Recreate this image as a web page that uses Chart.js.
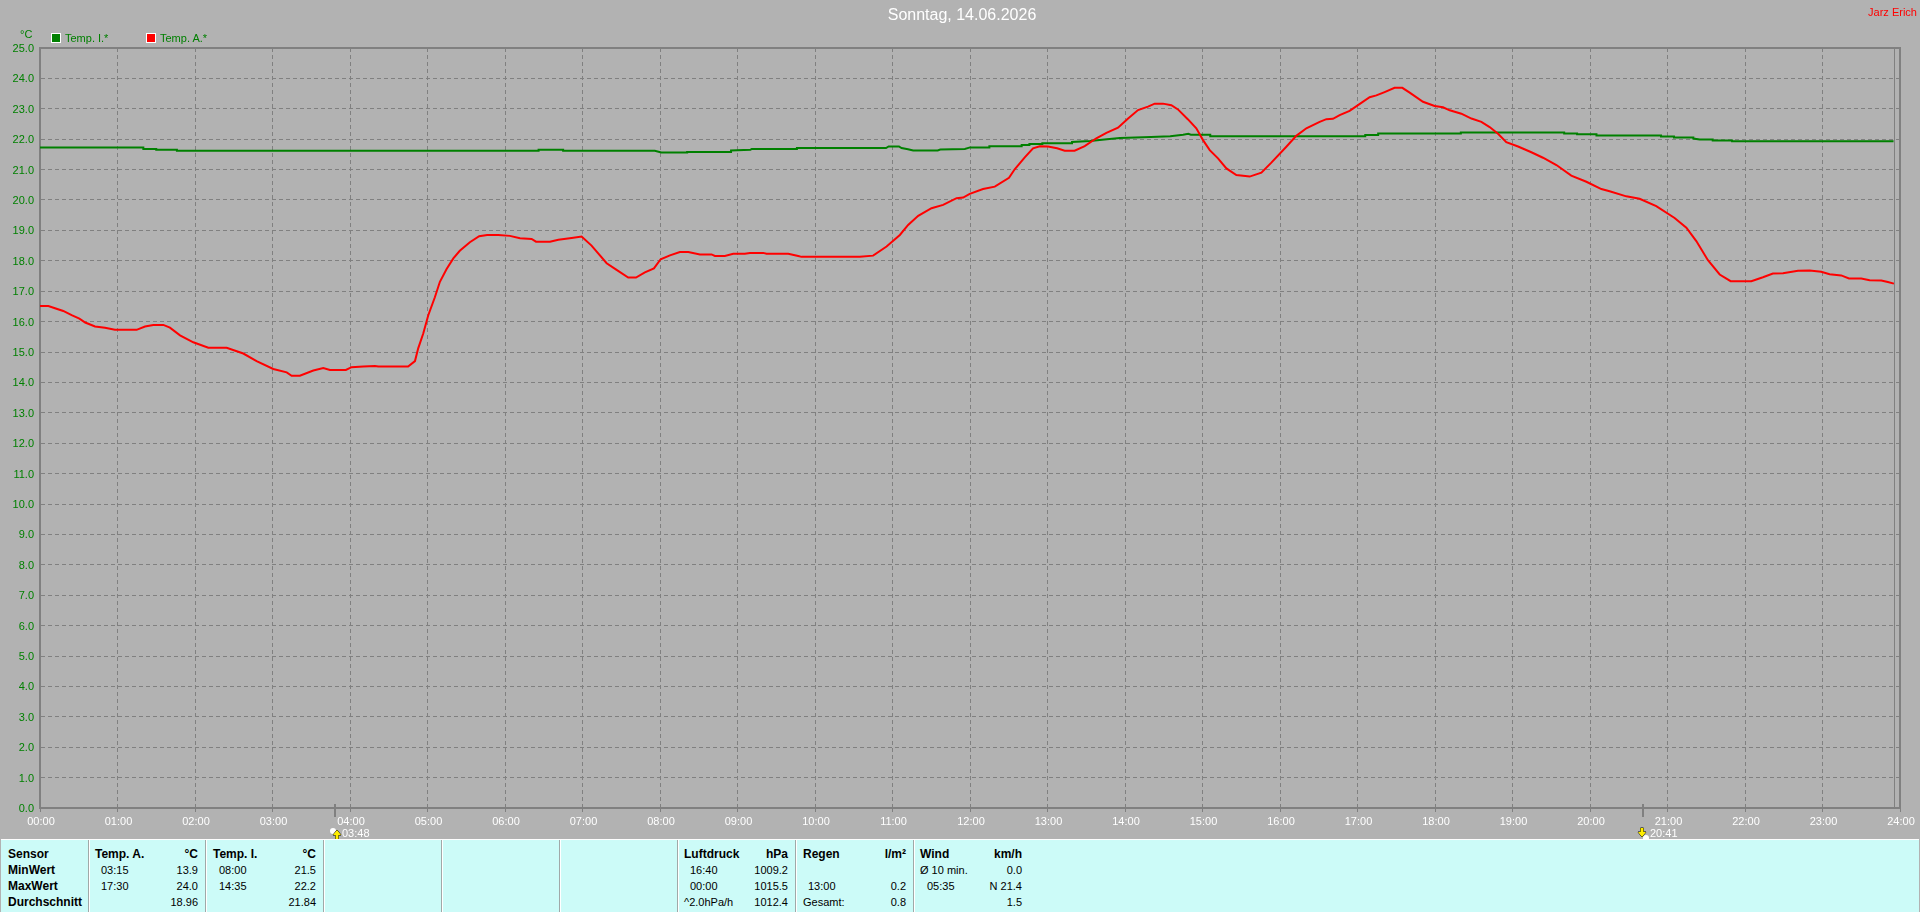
<!DOCTYPE html>
<html>
<head>
<meta charset="utf-8">
<title>Sonntag, 14.06.2026</title>
<script src="https://cdn.jsdelivr.net/npm/chart.js@4/dist/chart.umd.min.js"></script>
<style>
    html, body { margin: 0; padding: 0; background: #b2b2b2; overflow: hidden; }
    #page { position: relative; width: 1920px; height: 912px; font-family: "Liberation Sans", Arial, sans-serif; }
    #tempChart { position: absolute; left: 0; top: 0; }
    .lbl { position: absolute; font-size: 11px; line-height: 14px; white-space: nowrap; }
    .box { position: absolute; width: 8px; height: 8px; border: 1px solid #fff; top: 33px; }
    #panel { position: absolute; left: 1px; top: 839px; width: 1918px; height: 73px; background: #ccfbf8; border-top: 1px solid #fff; box-sizing: border-box; color: #000; }
    #panel .sep { position: absolute; top: 0; width: 2px; height: 73px; background: #a0a8a8; border-right: 1px solid #fff; box-sizing: border-box; }
    #panel .lbl { font-size: 11px; }
    #panel .b { font-weight: bold; font-size: 12px; }
</style>
</head>
<body>
<div id="page">
    <canvas id="tempChart" width="1920" height="839"></canvas>
    <div class="lbl" style="left:20px;top:27px;color:#008000">°C</div>
    <div class="lbl" style="right:3px;top:5px;color:#ff0000">Jarz Erich</div>
    <div id="legend"></div>
    <div id="panel"></div>
</div>
<script>
// Temp. I. (green), minutes after midnight and °C
const tempITimes = [0, 80, 80, 90, 90, 106, 106, 356, 386, 386, 405, 405, 476, 481, 501, 501, 535, 535, 550, 551, 586, 586, 655, 657, 665, 667, 672, 676, 695, 697, 716, 720, 735, 735, 760, 760, 766, 766, 776, 776, 799, 799, 813, 826, 836, 860, 875, 885, 889, 891, 906, 906, 1026, 1026, 1036, 1036, 1100, 1100, 1180, 1180, 1190, 1190, 1205, 1205, 1255, 1255, 1265, 1265, 1280, 1280, 1285, 1295, 1295, 1310, 1310, 1435];
const tempIValues = [21.73, 21.73, 21.68, 21.68, 21.65, 21.65, 21.62, 21.62, 21.62, 21.65, 21.65, 21.62, 21.62, 21.56, 21.56, 21.58, 21.58, 21.63, 21.65, 21.68, 21.68, 21.71, 21.71, 21.76, 21.76, 21.71, 21.67, 21.63, 21.63, 21.66, 21.68, 21.73, 21.73, 21.77, 21.77, 21.81, 21.81, 21.84, 21.84, 21.87, 21.87, 21.91, 21.94, 22.0, 22.04, 22.07, 22.1, 22.15, 22.18, 22.15, 22.15, 22.1, 22.1, 22.14, 22.14, 22.19, 22.19, 22.22, 22.22, 22.19, 22.19, 22.16, 22.16, 22.12, 22.12, 22.09, 22.09, 22.06, 22.06, 22.02, 21.99, 21.99, 21.96, 21.96, 21.93, 21.93];

// Temp. A. (red), minutes after midnight and °C
const tempATimes = [0, 6.5, 11.6, 18, 24.5, 30.5, 35, 42.6, 50.3, 58, 74.8, 81.3, 87.7, 95.5, 100.6, 108.4, 118.7, 130.3, 144.5, 157.4, 167.7, 180.6, 191, 194.8, 201.2, 211.6, 219.3, 224.5, 236.8, 241.2, 250.3, 259.3, 261.9, 285, 290.3, 292.8, 296.7, 300.6, 305.7, 309.6, 314.8, 320, 325, 332.8, 340, 346.2, 354.8, 363.8, 371.6, 380.6, 384, 394.8, 401.3, 411.6, 419.3, 427, 438.7, 446.4, 455.4, 461.4, 468.3, 475.3, 480.5, 487.7, 495.4, 501.9, 510.9, 519.9, 522.5, 530.2, 536.7, 545.7, 549.6, 559.9, 562.5, 579.3, 587, 589.6, 634.7, 645, 655.4, 665.7, 672.1, 679.9, 690.2, 699.2, 709.6, 714.7, 719.8, 730.1, 739.2, 750.2, 754.6, 762.4, 768.8, 774, 780.4, 787.4, 793.3, 801, 808.8, 817.8, 825.6, 834.6, 842.4, 850.1, 857.8, 863, 869.4, 875.9, 881, 888.8, 895.2, 900.4, 905.6, 912, 918.5, 926.2, 936.5, 945.6, 953.3, 964.9, 972.6, 980.4, 990.7, 995.9, 1001, 1006.2, 1013.9, 1020.4, 1029.4, 1034.6, 1041, 1048.7, 1054.7, 1060.4, 1070.7, 1079.7, 1086.2, 1091.4, 1100.4, 1108.2, 1115.9, 1122.3, 1128.8, 1135.2, 1144.3, 1154.6, 1163.6, 1174, 1185.5, 1197.2, 1208.8, 1215.2, 1228.1, 1238.4, 1251.3, 1265.5, 1274.6, 1282.3, 1291.3, 1300.4, 1308.9, 1324.9, 1333.9, 1341.6, 1349.4, 1361, 1370, 1379, 1385.5, 1394.5, 1400.5, 1410, 1416.5, 1425.5, 1430.6, 1435.3];
const tempAValues = [16.51, 16.51, 16.44, 16.35, 16.21, 16.10, 15.97, 15.84, 15.80, 15.73, 15.73, 15.84, 15.89, 15.89, 15.80, 15.55, 15.32, 15.14, 15.14, 14.95, 14.70, 14.44, 14.33, 14.22, 14.22, 14.39, 14.47, 14.41, 14.41, 14.50, 14.52, 14.54, 14.52, 14.52, 14.70, 15.12, 15.61, 16.21, 16.80, 17.31, 17.73, 18.08, 18.33, 18.61, 18.81, 18.85, 18.85, 18.82, 18.74, 18.72, 18.63, 18.63, 18.69, 18.75, 18.80, 18.50, 17.92, 17.70, 17.45, 17.45, 17.62, 17.75, 18.05, 18.18, 18.29, 18.29, 18.21, 18.21, 18.16, 18.16, 18.23, 18.23, 18.26, 18.26, 18.23, 18.23, 18.16, 18.13, 18.13, 18.17, 18.47, 18.85, 19.18, 19.48, 19.73, 19.84, 20.06, 20.08, 20.2, 20.36, 20.44, 20.73, 21.01, 21.40, 21.70, 21.77, 21.76, 21.70, 21.62, 21.62, 21.77, 22.03, 22.21, 22.38, 22.68, 22.96, 23.07, 23.17, 23.17, 23.12, 22.98, 22.65, 22.36, 21.97, 21.64, 21.37, 21.04, 20.82, 20.77, 20.90, 21.23, 21.75, 22.11, 22.36, 22.57, 22.66, 22.67, 22.79, 22.93, 23.12, 23.38, 23.44, 23.55, 23.69, 23.69, 23.53, 23.23, 23.09, 23.05, 22.95, 22.84, 22.68, 22.57, 22.40, 22.18, 21.90, 21.76, 21.57, 21.39, 21.15, 20.80, 20.60, 20.36, 20.29, 20.12, 20.04, 19.80, 19.41, 19.09, 18.65, 18.02, 17.55, 17.33, 17.33, 17.46, 17.58, 17.59, 17.67, 17.68, 17.64, 17.56, 17.52, 17.42, 17.42, 17.36, 17.35, 17.30, 17.25];

// sunrise / sunset
const sunTimes = [228, 1241];
const sunLabels = ["03:48", "20:41"];
const lastDataTime = 1435;

const dayTitle = "Sonntag, 14.06.2026";

// table below the chart
const sensorRows = ["Sensor", "MinWert", "MaxWert", "Durchschnitt"];
const tempARows = [["Temp. A.", "°C"], ["03:15", "13.9"], ["17:30", "24.0"], ["", "18.96"]];
const tempIRows = [["Temp. I.", "°C"], ["08:00", "21.5"], ["14:35", "22.2"], ["", "21.84"]];
const druckRows = [["Luftdruck", "hPa"], ["16:40", "1009.2"], ["00:00", "1015.5"], ["^2.0hPa/h", "1012.4"]];
const regenRows = [["Regen", "l/m²"], ["", ""], ["13:00", "0.2"], ["Gesamt:", "0.8"]];
const windRows = [["Wind", "km/h"], ["Ø 10 min.", "0.0"], ["05:35", "N 21.4"], ["", "1.5"]];

const GRID = "#808080";

function timeLabel(mins) {
    let h = Math.floor(mins / 60);
    return String(h).padStart(2, "0") + ":00";
}

function points(times, values) {
    return times.map((t, i) => ({ x: t, y: values[i] }));
}

// frame, end-of-data line and the sunrise/sunset markers
const extras = {
    id: "extras",
    afterLayout(chart) {
        // title is centred on the page, not on the padded chart
        chart.titleBlock.left = 24;
    },
    afterDatasetsDraw(chart) {
        const { ctx, chartArea, scales } = chart;
        ctx.save();
        ctx.strokeStyle = GRID;
        ctx.lineWidth = 2;
        ctx.beginPath();
        ctx.moveTo(chartArea.left, chartArea.top);
        ctx.lineTo(chartArea.right, chartArea.top);
        ctx.lineTo(chartArea.right, chartArea.bottom);
        ctx.stroke();
        let endX = Math.round(scales.x.getPixelForValue(lastDataTime)) + 0.5;
        ctx.lineWidth = 1;
        ctx.beginPath();
        ctx.moveTo(endX, chartArea.top);
        ctx.lineTo(endX, chartArea.bottom);
        ctx.stroke();

        ctx.font = "11px 'Liberation Sans'";
        ctx.textBaseline = "middle";
        sunTimes.forEach((t, i) => {
            let x = Math.round(scales.x.getPixelForValue(t));
            ctx.fillStyle = GRID;
            ctx.fillRect(x - 1, chartArea.bottom - 4, 2, 13);
            let rising = i === 0;
            let arrowX = rising ? x + 2 : x - 1;
            let arrowY = rising ? 835 : 832;
            let dir = rising ? -1 : 1;
            // sun
            ctx.fillStyle = "#ffffff";
            ctx.beginPath();
            ctx.arc(rising ? x - 2 : x + 3, rising ? 831 : 838, 3, 0, Math.PI * 2);
            ctx.fill();
            // arrow
            ctx.fillStyle = "#ffee00";
            ctx.strokeStyle = "#000000";
            ctx.lineWidth = 1;
            ctx.beginPath();
            ctx.moveTo(arrowX, arrowY + dir * 5);
            ctx.lineTo(arrowX + 4, arrowY);
            ctx.lineTo(arrowX + 1.5, arrowY);
            ctx.lineTo(arrowX + 1.5, arrowY - dir * 4);
            ctx.lineTo(arrowX - 1.5, arrowY - dir * 4);
            ctx.lineTo(arrowX - 1.5, arrowY);
            ctx.lineTo(arrowX - 4, arrowY);
            ctx.closePath();
            ctx.stroke();
            ctx.fill();
            ctx.fillStyle = "#ffffff";
            ctx.textAlign = "left";
            ctx.fillText(sunLabels[i], x + 7, 834);
        });
        ctx.restore();
    }
};

const ctx = document.getElementById("tempChart").getContext("2d");
const tempChart = new Chart(ctx, {
    type: "line",
    data: {
        datasets: [
            {
                label: "Temp. I.*",
                data: points(tempITimes, tempIValues),
                borderColor: "#008000",
                backgroundColor: "#008000",
                borderWidth: 2,
                pointRadius: 0,
                order: 1
            },
            {
                label: "Temp. A.*",
                data: points(tempATimes, tempAValues),
                borderColor: "#ff0000",
                backgroundColor: "#ff0000",
                borderWidth: 2,
                pointRadius: 0,
                order: 0
            }
        ]
    },
    options: {
        responsive: false,
        animation: false,
        devicePixelRatio: 1,
        layout: { padding: { right: 20 } },
        scales: {
            x: {
                type: "linear",
                min: 0,
                max: 1440,
                afterFit: scale => { scale.height = 31; },
                afterBuildTicks: scale => {
                    scale.ticks = [];
                    for (let m = 0; m <= 1440; m += 60) scale.ticks.push({ value: m });
                },
                border: { color: GRID, width: 2, dash: [4, 3] },
                grid: { color: GRID, tickColor: GRID, tickLength: 4, tickBorderDash: [] },
                ticks: {
                    color: "#ffffff",
                    font: { family: "Liberation Sans", size: 11 },
                    padding: 3,
                    labelOffset: 1,
                    autoSkip: false,
                    maxRotation: 0,
                    callback: v => timeLabel(v)
                }
            },
            y: {
                min: 0,
                max: 25,
                afterFit: scale => { scale.width = 40; },
                border: { color: GRID, width: 2, dash: [4, 3] },
                grid: { color: GRID, drawTicks: false },
                ticks: {
                    stepSize: 1,
                    color: "#008000",
                    font: { family: "Liberation Sans", size: 11 },
                    padding: 6,
                    labelOffset: 1,
                    callback: v => v.toFixed(1)
                }
            }
        },
        plugins: {
            legend: { display: false },
            tooltip: { enabled: false },
            title: {
                display: true,
                text: dayTitle,
                color: "#ffffff",
                font: { family: "Liberation Sans", size: 16, weight: "normal" },
                padding: { top: 6, bottom: 22.8 }
            }
        }
    },
    plugins: [extras]
});

// legend boxes taken from the datasets
const legend = document.getElementById("legend");
[51, 146].forEach((left, i) => {
    let ds = tempChart.data.datasets[i];
    let box = document.createElement("div");
    box.className = "box";
    box.style.left = left + "px";
    box.style.background = ds.borderColor;
    legend.appendChild(box);
    let txt = document.createElement("div");
    txt.className = "lbl";
    txt.textContent = ds.label;
    txt.style.left = (left + 14) + "px";
    txt.style.top = "31px";
    txt.style.color = "#008000";
    legend.appendChild(txt);
});

// table
const panel = document.getElementById("panel");
const rowTops = [7, 23, 39, 55];

function cell(text, x, row, right, bold) {
    if (!text) return;
    let d = document.createElement("div");
    d.className = bold ? "lbl b" : "lbl";
    d.textContent = text;
    if (right) d.style.right = (1918 - x) + "px";
    else d.style.left = x + "px";
    d.style.top = rowTops[row] + "px";
    panel.appendChild(d);
}

[87, 204, 322, 440, 558, 676, 794, 912].forEach(x => {
    let s = document.createElement("div");
    s.className = "sep";
    s.style.left = x + "px";
    panel.appendChild(s);
});

sensorRows.forEach((t, r) => cell(t, 7, r, false, true));

function column(rows, headX, timeX, rightX) {
    rows.forEach((row, r) => {
        let first = r === 0 || row[0] === "Gesamt:" || row[0].startsWith("Ø") || row[0].startsWith("^");
        cell(row[0], first ? headX : timeX, r, false, r === 0);
        cell(row[1], rightX, r, true, r === 0);
    });
}

column(tempARows, 94, 100, 197);
column(tempIRows, 212, 218, 315);
column(druckRows, 683, 689, 787);
column(regenRows, 802, 807, 905);
column(windRows, 919, 926, 1021);
</script>
</body>
</html>
